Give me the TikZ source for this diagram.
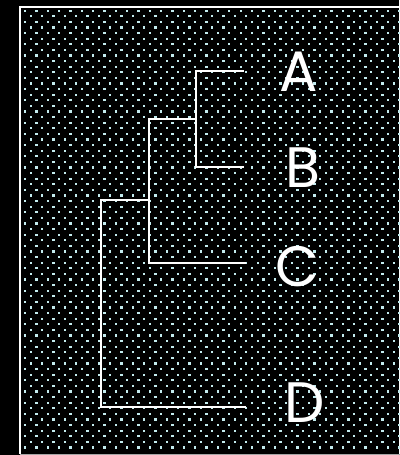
\documentclass[tikz,border=0pt]{standalone}
\usepackage{fontspec}
\setmainfont{Poppins}
\definecolor{dotcol}{RGB}{195,235,238}
\tikzset{
  branch/.style={draw=white, line width=1.5pt},
  leaf/.style={text=white, anchor=base, inner sep=0pt, font=\fontsize{57}{57}\selectfont},
  dotmark/.style={fill=dotcol}
}
\begin{document}
\begin{tikzpicture}[x=1pt,y=-1pt]
\useasboundingbox (0,0) rectangle (399,455);
\fill[black] (0,0) rectangle (399,455);
% dotted backdrop
\foreach \i in {0,...,78}{
  \foreach \j in {0,...,33}{
    \pgfmathsetmacro{\xx}{25+11.35*\j+5.675*mod(\i,2)}
    \pgfmathsetmacro{\yy}{10.7+5.6*\i}
    \fill[dotmark] (\xx-1.15,\yy-1.15) rectangle (\xx+1.15,\yy+1.15);
  }
}
% frame
\draw[white, line width=2pt] (20,454) -- (20,7) -- (405,7);
\draw[gray!70, line width=1pt] (20,454) -- (405,454);
% tree
\coordinate (a) at (244,71);
\coordinate (b) at (244,167);
\coordinate (c) at (246,263);
\coordinate (d) at (246,407);
\coordinate (n1) at (196,119);
\coordinate (n2) at (149,200);
\coordinate (n3) at (101,300);
\draw[branch] (a) -| (n1) |- (b);
\draw[branch] (n1) -| (n2) |- (c);
\draw[branch] (n2) -| (n3) |- (d);
% labels
\node[leaf] (la) at (298.5,91) {A};
\node[leaf] (lb) at (303,187) {B};
\node[leaf] (lc) at (297.5,286) {C};
\node[leaf] (ld) at (304.5,422) {D};
\end{tikzpicture}
\end{document}
